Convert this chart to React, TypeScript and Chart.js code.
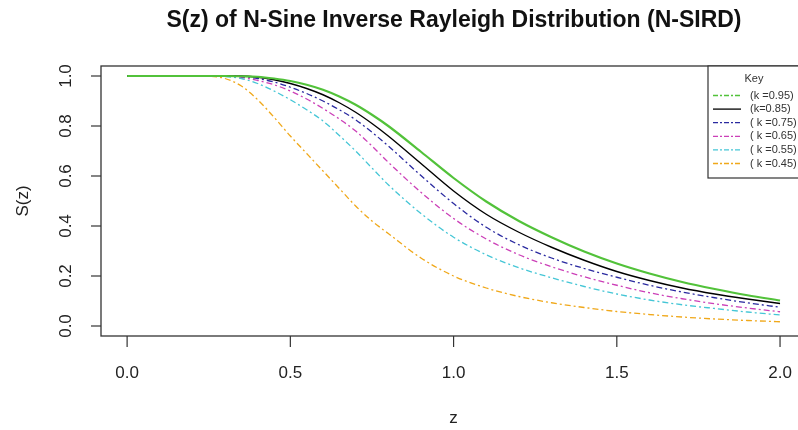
import React, { useEffect, useRef } from "react";
import { Chart, registerables } from "chart.js";
Chart.register(...registerables);

const zValues = [0, 0.1, 0.2, 0.25, 0.3, 0.35, 0.4, 0.45, 0.5, 0.55, 0.6, 0.65, 0.7, 0.75, 0.8, 0.9, 1.0, 1.1, 1.2, 1.3, 1.4, 1.5, 1.6, 1.7, 1.8, 1.9, 2.0];
const sK095 = [1, 1, 1, 1, 1, 0.999, 0.997, 0.99, 0.98, 0.965, 0.945, 0.918, 0.885, 0.845, 0.8, 0.697, 0.592, 0.498, 0.42, 0.355, 0.298, 0.25, 0.21, 0.176, 0.148, 0.123, 0.102];
const sK085 = [1, 1, 1, 1, 1, 1, 0.995, 0.985, 0.97, 0.95, 0.925, 0.893, 0.855, 0.81, 0.76, 0.65, 0.54, 0.447, 0.375, 0.315, 0.263, 0.218, 0.182, 0.152, 0.128, 0.108, 0.09];
const sK075 = [1, 1, 1, 1, 1, 0.998, 0.99, 0.976, 0.955, 0.93, 0.9, 0.865, 0.825, 0.775, 0.72, 0.602, 0.49, 0.395, 0.325, 0.272, 0.23, 0.195, 0.163, 0.136, 0.113, 0.093, 0.075];
const sK065 = [1, 1, 1, 1, 1, 0.995, 0.982, 0.965, 0.94, 0.908, 0.87, 0.828, 0.78, 0.72, 0.655, 0.535, 0.43, 0.348, 0.285, 0.237, 0.197, 0.163, 0.133, 0.109, 0.089, 0.072, 0.057];
const sK055 = [1, 1, 1, 1, 0.998, 0.99, 0.97, 0.94, 0.905, 0.865, 0.82, 0.762, 0.7, 0.632, 0.565, 0.45, 0.355, 0.285, 0.233, 0.193, 0.158, 0.128, 0.104, 0.085, 0.07, 0.056, 0.044];
const sK045 = [1, 1, 1, 0.999, 0.99, 0.96, 0.905, 0.835, 0.76, 0.69, 0.62, 0.55, 0.48, 0.42, 0.37, 0.272, 0.2, 0.152, 0.118, 0.093, 0.074, 0.058, 0.046, 0.036, 0.028, 0.022, 0.017];

const xTicks = [0, 0.5, 1.0, 1.5, 2.0];
const yTicks = [0, 0.2, 0.4, 0.6, 0.8, 1.0];

const seriesLabels = ["(k =0.95)", "(k=0.85)", "( k =0.75)", "( k =0.65)", "( k =0.55)", "( k =0.45)"];
const seriesData = [sK095, sK085, sK075, sK065, sK055, sK045];
const seriesColors = ["#52c23a", "#000000", "#2a2aa0", "#cc40b8", "#45c6d6", "#f0a81a"];
const seriesDash = [[], [], [6, 3, 2, 3], [6, 3, 2, 3], [6, 3, 2, 3], [6, 3, 2, 3]];
const seriesWidth = [2.2, 1.4, 1.3, 1.3, 1.3, 1.3];
const legendDash = [[5, 2, 2, 2], [], [5, 2, 2, 2], [5, 2, 2, 2], [5, 2, 2, 2], [5, 2, 2, 2]];

const FONT = "'Liberation Sans', Arial, sans-serif";

const decorPlugin = {
  id: "decor",
  beforeDraw(chart: any) {
    const ctx = chart.ctx;
    ctx.save();
    ctx.fillStyle = "#ffffff";
    ctx.fillRect(0, 0, chart.width, chart.height);
    ctx.restore();
  },
  afterDraw(chart: any) {
    const ctx = chart.ctx;
    const area = chart.chartArea;
    const xs = chart.scales.x;
    const ys = chart.scales.y;
    ctx.save();
    ctx.strokeStyle = "#333333";
    ctx.lineWidth = 1.3;
    ctx.strokeRect(area.left, area.top, 806 - area.left, area.bottom - area.top);

    ctx.fillStyle = "#222222";
    ctx.font = `17px ${FONT}`;
    ctx.textAlign = "center";
    ctx.textBaseline = "middle";
    ctx.lineWidth = 1.2;
    xTicks.forEach((v) => {
      const px = xs.getPixelForValue(v);
      ctx.beginPath();
      ctx.moveTo(px, area.bottom);
      ctx.lineTo(px, area.bottom + 11);
      ctx.stroke();
      ctx.fillText(v.toFixed(1), px, 373);
    });
    yTicks.forEach((v) => {
      const py = ys.getPixelForValue(v);
      ctx.beginPath();
      ctx.moveTo(area.left, py);
      ctx.lineTo(area.left - 10, py);
      ctx.stroke();
      ctx.save();
      ctx.translate(66, py);
      ctx.rotate(-Math.PI / 2);
      ctx.fillText(v.toFixed(1), 0, 0);
      ctx.restore();
    });
    ctx.fillText("z", (area.left + 806) / 2, 418);
    ctx.save();
    ctx.translate(23, (area.top + area.bottom) / 2);
    ctx.rotate(-Math.PI / 2);
    ctx.fillText("S(z)", 0, 0);
    ctx.restore();

    ctx.fillStyle = "#111111";
    ctx.font = `bold 23px ${FONT}`;
    ctx.fillText("S(z) of N-Sine Inverse Rayleigh Distribution (N-SIRD)", 454, 21);

    const lx = 708;
    const ly = area.top;
    ctx.fillStyle = "#ffffff";
    ctx.fillRect(lx, ly, 806 - lx, 178 - ly);
    ctx.strokeStyle = "#333333";
    ctx.lineWidth = 1.2;
    ctx.strokeRect(lx, ly, 806 - lx, 178 - ly);
    ctx.fillStyle = "#333333";
    ctx.font = `11px ${FONT}`;
    ctx.textAlign = "center";
    ctx.fillText("Key", 754, 79);
    ctx.textAlign = "left";
    chart.data.datasets.forEach((ds: any, i: number) => {
      const yy = 95.5 + i * 13.6;
      ctx.strokeStyle = ds.borderColor;
      ctx.lineWidth = 1.3;
      ctx.setLineDash(legendDash[i]);
      ctx.beginPath();
      ctx.moveTo(713, yy);
      ctx.lineTo(741, yy);
      ctx.stroke();
      ctx.setLineDash([]);
      ctx.fillStyle = "#333333";
      ctx.fillText(ds.label, 750, yy);
    });
    ctx.restore();
  },
};

export default function App() {
  const ref = useRef<HTMLCanvasElement | null>(null);
  useEffect(() => {
    if (!ref.current) return;
    const datasets = seriesData.map((arr, i) => ({
      label: seriesLabels[i],
      data: zValues.map((z, j) => ({ x: z, y: arr[j] })),
      borderColor: seriesColors[i],
      backgroundColor: seriesColors[i],
      borderDash: seriesDash[i],
      borderWidth: seriesWidth[i],
      pointRadius: 0,
      fill: false,
      cubicInterpolationMode: "monotone" as const,
    }));
    const chart = new Chart(ref.current, {
      type: "line",
      data: { datasets },
      options: {
        animation: false,
        responsive: false,
        maintainAspectRatio: false,
        layout: { padding: { left: 101, top: 66, right: 0, bottom: 94 } },
        plugins: { legend: { display: false }, title: { display: false }, tooltip: { enabled: false } },
        scales: {
          x: { type: "linear", min: -0.08, max: 2.055, display: false },
          y: { type: "linear", min: -0.04, max: 1.04, display: false },
        },
      },
      plugins: [decorPlugin],
    });
    return () => chart.destroy();
  }, []);
  return (
    <div style={{ position: "fixed", left: 0, top: 0, width: 798, height: 430, background: "#fff" }}>
      <canvas ref={ref} width={798} height={430} style={{ display: "block", width: 798, height: 430 }} />
    </div>
  );
}
